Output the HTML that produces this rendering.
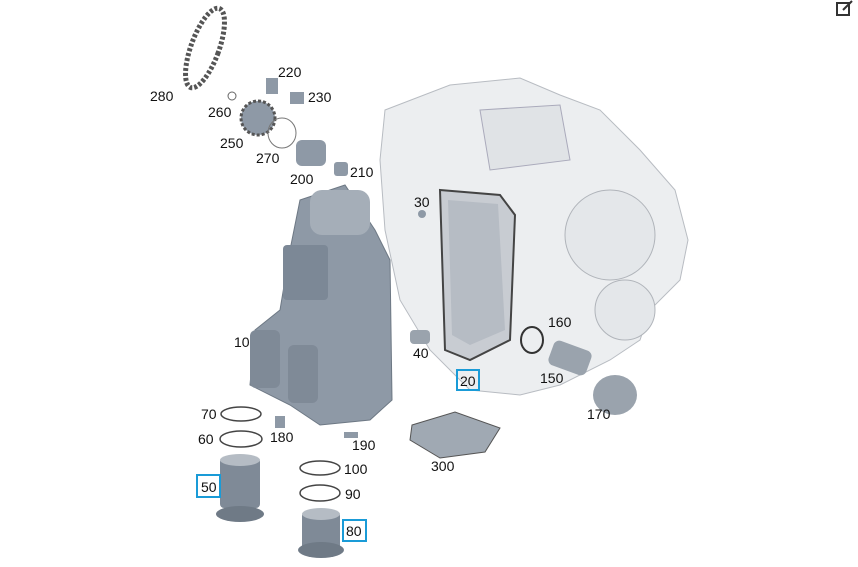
<!DOCTYPE html>
<html><head><style>
body{margin:0;background:#fff;}
svg{display:block;font-family:"Liberation Sans",sans-serif;}
</style></head><body>
<svg width="858" height="567" viewBox="0 0 858 567" xmlns="http://www.w3.org/2000/svg">
<rect width="858" height="567" fill="#fff"/>
<!-- edit icon -->
<g stroke="#333" stroke-width="2" fill="none"><rect x="837" y="3" width="12" height="12"/><path d="M843 10 L852 1"/></g>
<!-- transmission body -->
<path d="M385 110 L450 85 L520 78 L560 95 L600 110 L640 150 L675 190 L688 240 L680 280 L650 310 L640 340 L610 360 L560 385 L520 395 L470 390 L430 350 L400 300 L385 230 L380 160 Z" fill="#eceef0" stroke="#b8bcc2" stroke-width="1"/>
<path d="M480 110 L560 105 L570 160 L490 170 Z" fill="#e0e3e6" stroke="#aab" />
<circle cx="610" cy="235" r="45" fill="#e4e7ea" stroke="#b0b4ba"/>
<circle cx="625" cy="310" r="30" fill="#e4e7ea" stroke="#b0b4ba"/>
<!-- valve body & gasket 20 -->
<path d="M440 190 L500 195 L515 215 L510 340 L470 360 L445 350 Z" fill="#c8ccd2" stroke="#444" stroke-width="2"/>
<path d="M448 200 L498 204 L505 330 L470 345 L452 335 Z" fill="#b6bcc4"/>
<!-- 160 ring -->
<ellipse cx="532" cy="340" rx="11" ry="13" fill="none" stroke="#333" stroke-width="2"/>
<!-- 150 -->
<rect x="550" y="345" width="40" height="26" rx="6" fill="#9aa3ad" transform="rotate(20 570 358)"/>
<!-- 170 -->
<ellipse cx="615" cy="395" rx="22" ry="20" fill="#9aa3ad"/>
<!-- 40 -->
<rect x="410" y="330" width="20" height="14" rx="4" fill="#9aa3ad"/>
<!-- main module -->
<path d="M300 200 L345 185 L375 230 L390 260 L392 400 L370 420 L320 425 L290 405 L250 385 L255 330 L280 310 L290 250 Z" fill="#8e99a6" stroke="#6d7884"/>
<rect x="310" y="190" width="60" height="45" rx="12" fill="#a5aeb8"/>
<rect x="283" y="245" width="45" height="55" rx="4" fill="#7c8896"/>
<rect x="250" y="330" width="30" height="58" rx="6" fill="#7f8a97"/>
<rect x="288" y="345" width="30" height="58" rx="6" fill="#7f8a97"/>
<!-- chain -->
<ellipse cx="205" cy="48" rx="14" ry="42" transform="rotate(20 205 48)" fill="none" stroke="#555" stroke-width="5" stroke-dasharray="3 2"/>
<!-- gear 250 -->
<circle cx="258" cy="118" r="17" fill="#8e99a6" stroke="#555" stroke-dasharray="3 2" stroke-width="3"/>
<circle cx="232" cy="96" r="4" fill="none" stroke="#666"/>
<rect x="266" y="78" width="12" height="16" fill="#8e99a6"/>
<rect x="290" y="92" width="14" height="12" fill="#8e99a6"/>
<ellipse cx="282" cy="133" rx="14" ry="15" fill="none" stroke="#777"/>
<rect x="296" y="140" width="30" height="26" rx="6" fill="#8e99a6"/>
<rect x="334" y="162" width="14" height="14" rx="3" fill="#8e99a6"/>
<circle cx="422" cy="214" r="4" fill="#8e99a6"/>
<!-- o-rings -->
<g fill="none" stroke="#444" stroke-width="1.5">
<ellipse cx="241" cy="414" rx="20" ry="7"/>
<ellipse cx="241" cy="439" rx="21" ry="8"/>
<ellipse cx="320" cy="468" rx="20" ry="7"/>
<ellipse cx="320" cy="493" rx="20" ry="8"/>
</g>
<rect x="275" y="416" width="10" height="12" fill="#8e99a6"/>
<rect x="344" y="432" width="14" height="6" fill="#8e99a6"/>
<!-- filter 300 -->
<path d="M412 425 L455 412 L500 428 L485 452 L440 458 L410 440 Z" fill="#a0a9b3" stroke="#555"/>
<!-- 50 -->
<rect x="220" y="458" width="40" height="50" rx="4" fill="#7f8a97"/>
<ellipse cx="240" cy="460" rx="20" ry="6" fill="#b5bcc4"/>
<ellipse cx="240" cy="514" rx="24" ry="8" fill="#6f7a86"/>
<!-- 80 -->
<rect x="302" y="512" width="38" height="42" rx="4" fill="#7f8a97"/>
<ellipse cx="321" cy="514" rx="19" ry="6" fill="#b5bcc4"/>
<ellipse cx="321" cy="550" rx="23" ry="8" fill="#6f7a86"/>
<!-- labels -->
<g font-size="14" fill="#111">
<text x="150" y="101">280</text><text x="278" y="77">220</text><text x="308" y="102">230</text>
<text x="208" y="117">260</text><text x="220" y="148">250</text><text x="256" y="163">270</text>
<text x="290" y="184">200</text><text x="350" y="177">210</text><text x="414" y="207">30</text>
<text x="234" y="347">10</text><text x="413" y="358">40</text><text x="548" y="327">160</text>
<text x="540" y="383">150</text><text x="587" y="419">170</text><text x="201" y="419">70</text>
<text x="198" y="444">60</text><text x="270" y="442">180</text><text x="352" y="450">190</text>
<text x="431" y="471">300</text><text x="344" y="474">100</text><text x="345" y="499">90</text>
<text x="460" y="386">20</text><text x="201" y="492">50</text><text x="346" y="536">80</text>
</g>
<g fill="none" stroke="#1a9bd7" stroke-width="2">
<rect x="457" y="370" width="22" height="20"/><rect x="197" y="475" width="23" height="22"/><rect x="343" y="520" width="23" height="21"/>
</g>
</svg>
</body></html>
